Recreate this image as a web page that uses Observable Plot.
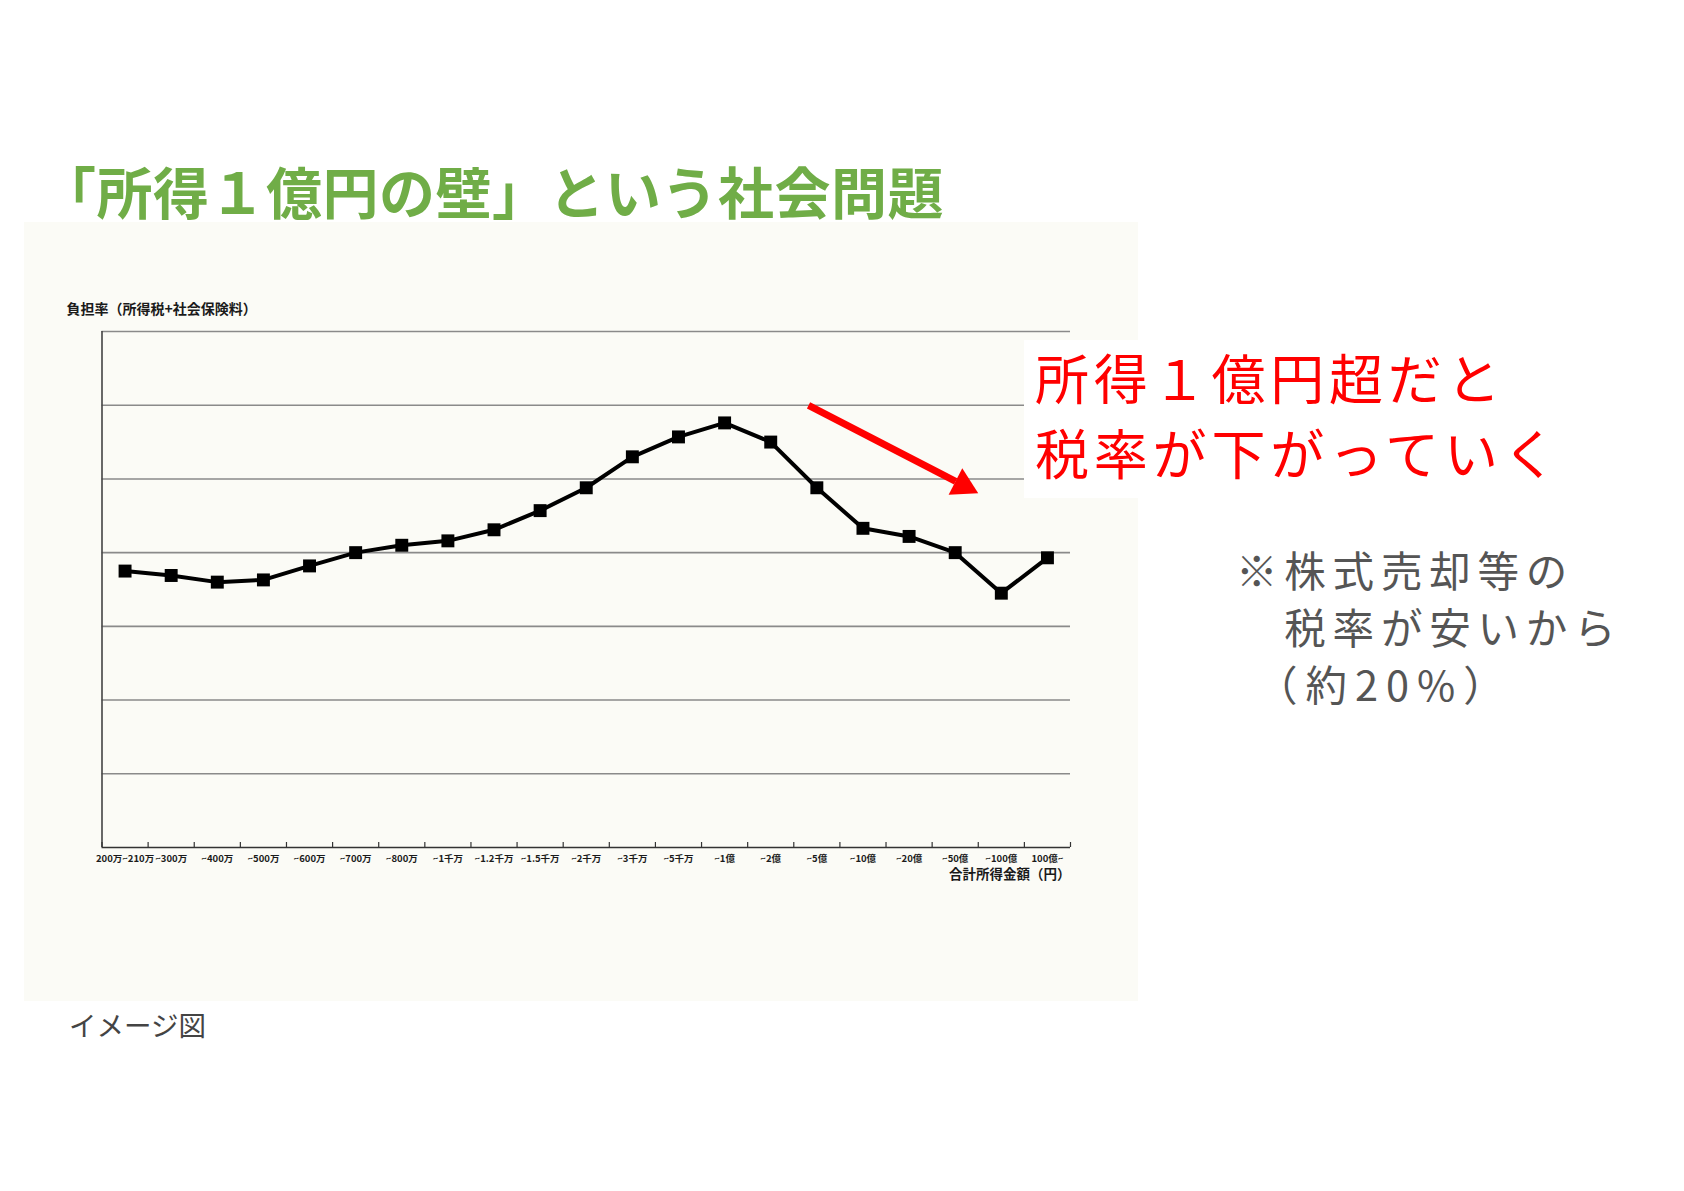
<!DOCTYPE html>
<html lang="ja">
<head>
<meta charset="utf-8">
<script src="https://cdn.jsdelivr.net/npm/d3@7"></script>
<script src="https://cdn.jsdelivr.net/npm/@observablehq/plot@0.6"></script>
<style>
  html, body { margin: 0; padding: 0; background: #ffffff; }
  #page { position: relative; width: 1684px; height: 1191px; overflow: hidden; background: #ffffff; font-family: "Noto Sans CJK JP", "Noto Sans", sans-serif; }
  .abs { position: absolute; white-space: pre; }
  #title { left: 40px; top: 162px; font-size: 56px; line-height: 56px; font-weight: 700; color: #70ad47; letter-spacing: 0.5px; }
  #redbox { left: 1024px; top: 340px; width: 560px; height: 158px; background: #ffffff; }
  #redtext { left: 1035px; top: 339px; font-size: 54px; line-height: 75px; font-weight: 400; color: #ff0000; letter-spacing: 4.8px; }
  .note { left: 1236px; font-size: 41.5px; line-height: 57px; height: 57px; font-weight: 400; color: #555555; letter-spacing: 6.8px; }
  #caption { left: 69px; top: 1011px; font-size: 27.5px; line-height: 27.5px; color: #444444; }
</style>
</head>
<body>
<div id="page">
  <div id="title" class="abs">「所得１億円の壁」という社会問題</div>
  <div id="chart"></div>
  <div id="redbox" class="abs"></div>
  <div id="redtext" class="abs">所得１億円超だと
税率が下がっていく</div>
  <div class="abs note" style="top:541px">※株式売却等の</div>
  <div class="abs note" style="top:598px">　税率が安いから</div>
  <div class="abs note" style="top:655px; padding-left:20px; letter-spacing:8px">（約20%）</div>
  <div id="caption" class="abs">イメージ図</div>
</div>
<script>
// ---- data ----
const categories = ["200万~210万", "~300万", "~400万", "~500万", "~600万", "~700万", "~800万",
  "~1千万", "~1.2千万", "~1.5千万", "~2千万", "~3千万", "~5千万", "~1億", "~2億", "~5億",
  "~10億", "~20億", "~50億", "~100億", "100億~"];
const burdenRate = [18.75, 18.45, 18.0, 18.15, 19.1, 20.0, 20.5, 20.8, 21.55, 22.85, 24.4,
  26.5, 27.85, 28.8, 27.5, 24.4, 21.65, 21.1, 20.0, 17.25, 19.65];
const gridValues = [5, 10, 15, 20, 25, 30, 35];
const yLabel = ["負担率（所得税+社会保険料）"];
const xLabel = ["合計所得金額（円）"];
// arrow annotation (in data units: category index, rate)
const arrowX1 = [14.82], arrowY1 = [29.99], arrowX2 = [18.01], arrowY2 = [24.83];
const headX = [18.17], headY = [24.56];

const idx = categories.map((_, i) => i);
const boundaries = d3.range(-0.5, categories.length, 1);
const rows = idx.map(i => ({i, cat: categories[i], v: burdenRate[i]}));

const chart = Plot.plot({
  width: 1114,
  height: 779,
  marginLeft: 77.5,
  marginRight: 68,
  marginTop: 109,
  marginBottom: 154,
  x: {domain: [-0.5, categories.length - 0.5], axis: null, label: null},
  y: {domain: [0, 35], axis: null, label: null},
  style: {background: "#fbfbf6", fontFamily: "'Noto Sans CJK JP', sans-serif", overflow: "visible"},
  marks: [
    Plot.ruleY(gridValues, {stroke: "#8a8a8a", strokeWidth: 1.6}),
    Plot.ruleY([0], {stroke: "#333333", strokeWidth: 1.6}),
    Plot.ruleX([-0.5], {stroke: "#444444", strokeWidth: 1.6}),
    Plot.axisX(boundaries, {tickSize: -5, tickFormat: () => "", label: null, stroke: "#333333", strokeWidth: 1.2}),
    Plot.axisX(idx, {tickSize: 0, tickPadding: 8, label: null, tickFormat: i => categories[i], fontSize: 9.5, fontWeight: 700, fill: "#1a1a1a", letterSpacing: "-0.4px"}),
    Plot.lineY(rows, {x: "i", y: "v", stroke: "#000000", strokeWidth: 4, strokeLinejoin: "round"}),
    Plot.dot(rows, {x: "i", y: "v", symbol: "square", r: 7.3, fill: "#000000", stroke: "none"}),
    Plot.link(arrowX1, {x1: d => d, y1: (d, i) => arrowY1[i], x2: (d, i) => arrowX2[i], y2: (d, i) => arrowY2[i], stroke: "#ff0000", strokeWidth: 7}),
    Plot.dot(headX, {x: d => d, y: (d, i) => headY[i], symbol: "triangle", r: 11, rotate: 117.4, fill: "#ff0000", stroke: "none"}),
    Plot.text(yLabel, {frameAnchor: "top-left", dx: -35.5, dy: -27, textAnchor: "start", fontSize: 14, fontWeight: 700, fill: "#1a1a1a"}),
    Plot.text(xLabel, {frameAnchor: "bottom-right", dy: 31, textAnchor: "end", fontSize: 13.5, fontWeight: 700, fill: "#1a1a1a"})
  ]
});
chart.style.position = "absolute";
chart.style.left = "24px";
chart.style.top = "222px";
document.getElementById("chart").appendChild(chart);
</script>
</body>
</html>
